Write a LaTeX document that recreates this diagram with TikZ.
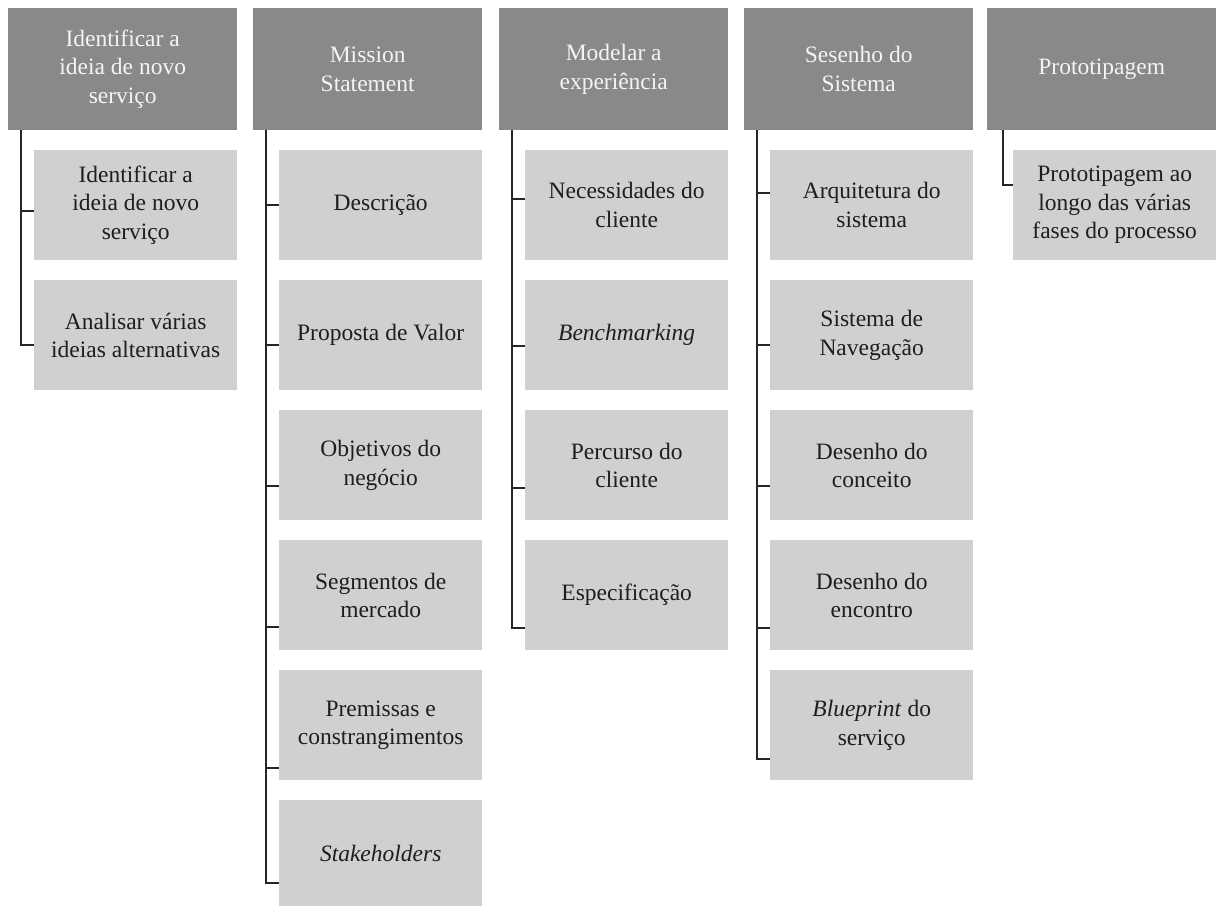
\documentclass[tikz,border=0pt]{standalone}
\usepackage{fontspec}
\setmainfont{Liberation Serif}
\definecolor{hdr}{HTML}{898989}
\definecolor{chl}{HTML}{D0D0D0}
\definecolor{hdrtxt}{HTML}{F4F4F4}
\definecolor{chtxt}{HTML}{1E1E1E}
\definecolor{ln}{HTML}{262626}
\begin{document}
\begin{tikzpicture}[x=1pt,y=-1pt,
  every node/.style={font=\fontsize{23.5}{28.5}\selectfont, align=center, inner sep=0pt, anchor=north west},
  hbox/.style={fill=hdr, text=hdrtxt, minimum width=229pt, minimum height=122pt},
  cbox/.style={fill=chl, text=chtxt, minimum width=203pt, minimum height=110pt},
  conn/.style={draw=ln, line width=1.6pt}]
\fill[white] (0,0) rectangle (1217,906);
\useasboundingbox (0,0) rectangle (1217,906);

% headers
\node[hbox] (h1) at (8,8) {Identificar a\\ideia de novo\\serviço};
\node[hbox] (h2) at (253,8) {Mission\\Statement};
\node[hbox] (h3) at (499,8) {Modelar a\\experiência};
\node[hbox] (h4) at (744,8) {Sesenho do\\Sistema};
\node[hbox] (h5) at (987,8) {Prototipagem};

% column 1
\node[cbox] (c11) at (34,150) {Identificar a\\ideia de novo\\serviço};
\node[cbox] (c12) at (34,280) {Analisar várias\\ideias alternativas};
% column 2
\node[cbox] (c21) at (279,150) {Descrição};
\node[cbox] (c22) at (279,280) {Proposta de Valor};
\node[cbox] (c23) at (279,410) {Objetivos do\\negócio};
\node[cbox] (c24) at (279,540) {Segmentos de\\mercado};
\node[cbox] (c25) at (279,670) {Premissas e\\constrangimentos};
\node[cbox, minimum height=106pt] (c26) at (279,800) {\textit{Stakeholders}};
% column 3
\node[cbox] (c31) at (525,150) {Necessidades do\\cliente};
\node[cbox] (c32) at (525,280) {\textit{Benchmarking}};
\node[cbox] (c33) at (525,410) {Percurso do\\cliente};
\node[cbox] (c34) at (525,540) {Especificação};
% column 4
\node[cbox] (c41) at (770,150) {Arquitetura do\\sistema};
\node[cbox] (c42) at (770,280) {Sistema de\\Navegação};
\node[cbox] (c43) at (770,410) {Desenho do\\conceito};
\node[cbox] (c44) at (770,540) {Desenho do\\encontro};
\node[cbox] (c45) at (770,670) {\textit{Blueprint} do\\serviço};
% column 5
\node[cbox] (c51) at (1013,150) {Prototipagem ao\\longo das várias\\fases do processo};

% trunk tops
\coordinate (t1) at ([xshift=13pt]h1.south west);
\coordinate (t2) at ([xshift=13pt]h2.south west);
\coordinate (t3) at ([xshift=13pt]h3.south west);
\coordinate (t4) at ([xshift=13pt]h4.south west);
\coordinate (t5) at ([xshift=16pt]h5.south west);

% connectors
\draw[conn] (t1) |- ([yshift=-6pt]c11.west);
\draw[conn] (t1) |- ([yshift=-10pt]c12.west);

\draw[conn] (t2) |- ([yshift=0pt]c21.west);
\draw[conn] (t2) |- ([yshift=-10pt]c22.west);
\draw[conn] (t2) |- ([yshift=-21pt]c23.west);
\draw[conn] (t2) |- ([yshift=-32pt]c24.west);
\draw[conn] (t2) |- ([yshift=-43pt]c25.west);
\draw[conn] (t2) |- ([yshift=-30pt]c26.west);

\draw[conn] (t3) |- ([yshift=6pt]c31.west);
\draw[conn] (t3) |- ([yshift=-11pt]c32.west);
\draw[conn] (t3) |- ([yshift=-23pt]c33.west);
\draw[conn] (t3) |- ([yshift=-33pt]c34.west);

\draw[conn] (t4) |- ([yshift=12pt]c41.west);
\draw[conn] (t4) |- ([yshift=-10pt]c42.west);
\draw[conn] (t4) |- ([yshift=-21pt]c43.west);
\draw[conn] (t4) |- ([yshift=-33pt]c44.west);
\draw[conn] (t4) |- ([yshift=-34pt]c45.west);

\draw[conn] (t5) |- ([yshift=20pt]c51.west);
\end{tikzpicture}
\end{document}
